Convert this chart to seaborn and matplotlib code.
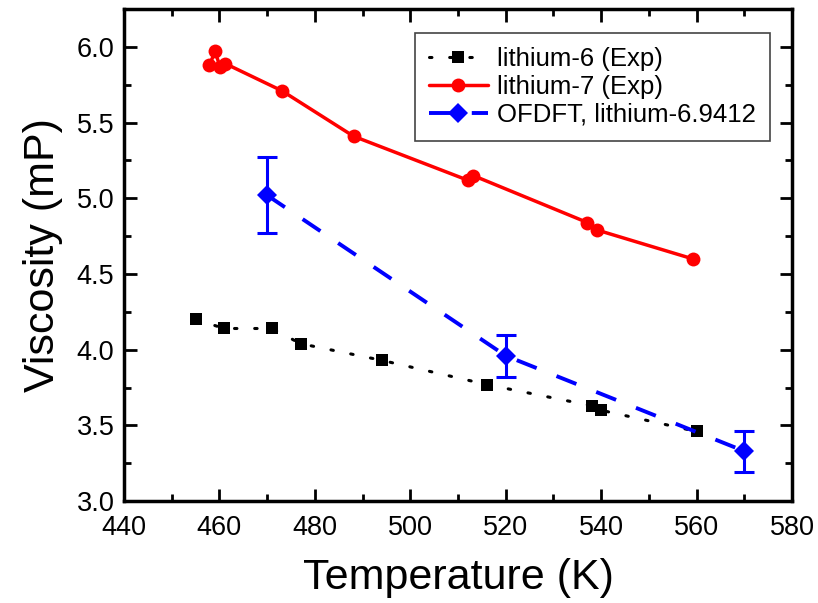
import matplotlib
matplotlib.use("Agg")
import matplotlib.pyplot as plt
import seaborn as sns
import numpy as np
from matplotlib.ticker import MultipleLocator

# ---- data ----
li6_T = [455, 461, 471, 477, 494, 516, 538, 540, 560]
li6_V = [4.20, 4.14, 4.14, 4.04, 3.93, 3.77, 3.63, 3.60, 3.46]

li7_T = [457.9, 459.1, 460.1, 461.2, 473.1, 488.1, 512.0, 513.2, 537.1, 539.2, 559.2]
li7_V = [5.88, 5.97, 5.87, 5.89, 5.71, 5.41, 5.12, 5.15, 4.84, 4.79, 4.60]

of_T = [470, 520, 570]
of_V = [5.02, 3.96, 3.33]
of_err = [0.25, 0.14, 0.135]

labels = ["lithium-6 (Exp)", "lithium-7 (Exp)", "OFDFT, lithium-6.9412"]

sns.set_style("ticks")
plt.rcParams['font.family'] = ['Liberation Sans', 'DejaVu Sans']
plt.rcParams['text.color'] = 'black'
plt.rcParams['axes.labelcolor'] = 'black'

fig = plt.figure(figsize=(8.18, 6.03), dpi=100)
ax = fig.add_axes([0.1516, 0.169, 0.8166, 0.816])

sns.lineplot(x=li6_T, y=li6_V, ax=ax, color="black", linestyle=(0, (0.8, 5.8)),
             linewidth=2.2, marker="s", markersize=9, markeredgewidth=0,
             estimator=None, label=labels[0], dash_capstyle="round")
sns.lineplot(x=li7_T, y=li7_V, ax=ax, color="#ff0000", linestyle="-",
             linewidth=2.5, marker="o", markersize=10, markeredgewidth=0,
             estimator=None, label=labels[1])
sns.lineplot(x=of_T, y=of_V, ax=ax, color="#0000ff", linestyle=(0, (5.5, 5.5)),
             linewidth=2.8, marker="D", markersize=10, markeredgewidth=0,
             estimator=None, label=labels[2])
ax.errorbar(of_T, of_V, yerr=of_err, fmt="none", ecolor="#0000ff",
            elinewidth=2.2, capsize=7, capthick=2.2)

ax.set_xlim(440, 580)
ax.set_ylim(3.0, 6.25)
ax.xaxis.set_major_locator(MultipleLocator(20))
ax.xaxis.set_minor_locator(MultipleLocator(10))
ax.yaxis.set_major_locator(MultipleLocator(0.5))
ax.yaxis.set_minor_locator(MultipleLocator(0.25))
ax.yaxis.set_major_formatter(matplotlib.ticker.FormatStrFormatter('%.1f'))

ax.tick_params(which="both", direction="in", top=True, right=True,
               labelsize=19.5, width=2, colors="black")
ax.tick_params(axis="x", pad=10)
ax.tick_params(axis="y", pad=7)
ax.tick_params(which="major", length=9)
ax.tick_params(which="minor", length=5)
for s in ax.spines.values():
    s.set_linewidth(2.5)
    s.set_color("black")

ax.set_xlabel("Temperature (K)", fontsize=31, labelpad=12, color="black")
ax.set_ylabel("Viscosity (mP)", fontsize=31, labelpad=10, color="black")

leg = ax.legend(loc="upper right", bbox_to_anchor=(0.967, 0.951),
                fontsize=18.5, frameon=True, fancybox=False, framealpha=1,
                edgecolor="#444444", handlelength=2.3, handletextpad=0.35,
                borderpad=0.55, labelspacing=0.15, borderaxespad=0)
leg.get_frame().set_linewidth(1.2)

fig.savefig("out.png", dpi=100)
